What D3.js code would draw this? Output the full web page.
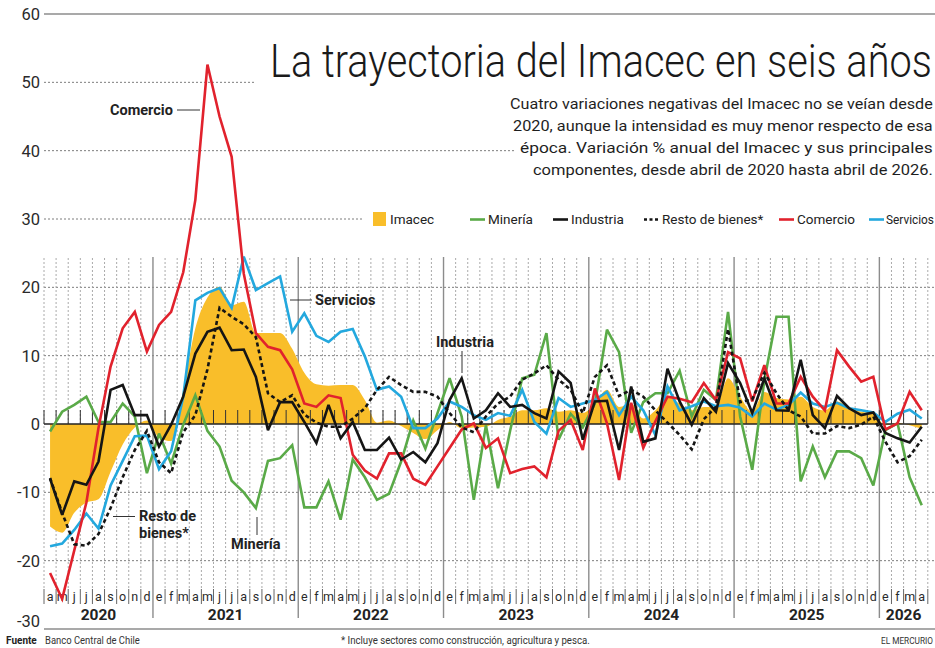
<!DOCTYPE html>
<html><head><meta charset="utf-8">
<script src="https://cdn.jsdelivr.net/npm/d3@7"></script>
<style>
body{margin:0;background:#fff;}
svg{display:block;}
</style></head><body>
<svg id="c" width="935" height="648"></svg>
<script>
// ---------- DATA (variación % anual, abril 2020 - abril 2026) ----------
const monthInitials = ["e","f","m","a","m","j","j","a","s","o","n","d"];
const yearLabels = ["2020","2021","2022","2023","2024","2025","2026"];
const yTicks = [-30,-20,-10,0,10,20,30,40,50,60];

const imacec = [
 -15.0,-15.9,-13.0,-11.5,-11.0,-7.0,-3.0,-0.5,0.5,
 -2.0,-2.5,5.0,14.0,18.5,20.1,17.4,17.9,13.3,13.3,13.3,11.0,
 7.5,5.8,5.6,5.7,5.7,3.5,0.2,0.5,-0.3,-1.3,-2.2,-0.9,
 0.3,-0.6,-0.5,-0.4,0.6,1.1,2.0,2.0,2.3,1.8,2.0,1.6,
 3.0,5.0,2.5,3.0,0.8,2.0,4.0,3.0,2.0,2.5,2.5,6.7,
 4.0,1.8,4.7,3.8,3.6,4.0,2.5,2.0,3.3,2.5,1.8,1.6,
 -0.2,0.2,-0.2,-0.7
];
const mineria = [
 -1.1,1.8,2.8,4.0,0.3,0.3,3.0,1.1,-7.2,
 -1.4,-5.8,-0.1,4.2,-1.0,-3.3,-8.3,-10.0,-12.3,-5.4,-5.0,-3.1,
 -12.2,-12.2,-8.4,-14.0,-5.2,-7.8,-11.1,-10.2,-5.5,0.5,-3.6,1.6,
 6.7,1.1,-11.1,-0.2,-9.4,-1.0,6.7,7.2,13.3,-2.3,1.5,-0.5,
 3.0,13.8,10.5,-1.3,3.2,4.5,4.5,7.8,1.1,5.0,3.5,16.4,
 1.1,-6.7,6.4,15.7,15.7,-8.4,-3.3,-7.8,-4.0,-4.0,-5.0,-9.0,
 -0.9,0.1,-7.8,-11.9
];
const industria = [
 -8.0,-13.3,-8.4,-8.9,-5.5,5.0,5.7,1.3,1.3,
 -3.3,-0.1,4.0,10.3,13.5,14.1,10.8,10.9,6.9,-0.9,3.2,3.2,
 0.3,-2.8,2.8,-2.1,0.3,-3.8,-3.8,-2.0,-5.2,-4.1,-5.6,-2.8,
 3.5,6.7,0.8,2.0,4.5,2.5,2.8,1.6,0.8,7.7,6.0,-2.3,
 3.3,3.4,-3.8,5.5,-2.6,-2.1,8.1,3.3,-0.1,3.8,1.8,8.9,
 6.0,1.6,6.7,2.0,1.95,9.4,1.3,-0.6,4.1,2.3,1.3,1.7,
 -1.3,-2.1,-2.7,-0.4
];
const restoBienes = [
 -7.9,-13.0,-17.6,-17.8,-16.1,-12.3,-7.8,-3.8,-1.0,
 -5.6,-7.2,-1.2,1.3,8.0,17.0,15.7,14.6,12.7,4.5,3.2,4.2,
 1.4,0.2,-0.4,-0.4,0.8,2.3,5.0,6.9,5.7,4.7,4.7,4.0,
 1.6,-0.5,-1.2,1.1,3.0,4.0,6.5,7.4,8.6,6.5,5.0,1.6,
 6.9,8.6,4.1,5.0,4.0,2.0,0.2,-1.6,-3.7,0.7,2.5,13.9,
 3.2,3.6,7.5,4.5,2.0,1.1,-1.4,-1.4,-0.3,-0.6,-0.1,1.1,
 -2.6,-5.6,-4.7,-2.3
];
const comercio = [
 -21.8,-25.6,-18.5,-11.5,-0.6,8.4,14.0,16.4,10.6,
 14.5,16.4,22.2,32.8,52.6,45.0,39.1,22.0,13.3,11.3,10.8,8.0,
 3.0,2.5,4.2,3.8,-4.5,-6.8,-8.0,-4.3,-4.3,-8.0,-8.9,-6.2,
 -3.5,-0.8,0.1,-3.5,-2.1,-7.2,-6.6,-6.2,-7.8,-1.0,0.6,-3.8,
 5.2,0.1,-8.2,3.1,-3.5,0.4,4.0,3.7,3.2,6.0,3.5,10.5,
 9.6,3.3,8.6,3.0,3.0,6.9,4.0,2.0,10.8,8.4,6.2,6.9,
 -0.8,0.1,4.7,2.0
];
const servicios = [
 -17.9,-17.5,-15.5,-13.1,-15.3,-9.0,-5.4,-1.8,-1.7,
 -6.6,-4.0,4.0,18.1,19.2,19.9,17.0,24.5,19.6,20.6,21.6,13.5,
 16.2,12.9,12.0,13.5,13.9,9.9,5.0,5.5,4.0,-0.6,-0.6,0.8,
 3.3,2.5,1.3,0.6,1.6,1.2,5.0,0.3,-1.4,3.8,2.5,3.0,
 3.5,4.7,1.3,4.0,2.0,-1.6,5.5,2.0,2.6,3.3,2.6,2.8,
 2.4,1.1,3.0,2.1,2.8,4.6,3.0,2.5,3.1,2.3,2.0,1.7,
 0.3,1.5,2.1,0.8
];

const titleText = "La trayectoria del Imacec en seis años";
const subtitleLines = [
 "Cuatro variaciones negativas del Imacec no se veían desde",
 "2020, aunque la intensidad es muy menor respecto de esa",
 "época. Variación % anual del Imacec y sus principales",
 "componentes, desde abril de 2020 hasta abril de 2026."
];

// ---------- SETUP ----------
const FONT = "Roboto, 'Open Sans', Arial, sans-serif";
const COL = {imacec:"#F9BE2A", mineria:"#5AAA48", industria:"#151515", resto:"#151515", comercio:"#E1222D", servicios:"#23A8DE"};
const nMonths = imacec.length;
const months = d3.range(nMonths).map(k => {
  const mi = (3 + k) % 12, yi = Math.floor((3 + k) / 12);
  return {k, label: monthInitials[mi], mi, year: yearLabels[yi]};
});

const svg = d3.select("#c").style("font-family", FONT);
const x = d3.scaleBand().domain(d3.range(nMonths)).range([44, 927.8]);
const bw = x.bandwidth();
const cx = i => x(i) + bw / 2;
const y = d3.scaleLinear().domain([-30, 60]).range([629, 14]);
const y0 = y(0);
const bounds = d3.range(nMonths + 1).map(k => k < nMonths ? x(k) : x(nMonths - 1) + bw);

// fit a text to a target width by scaling it horizontally (keeps it a real text)
function fitWidth(sel, x0, target) {
  const len = sel.node().getComputedTextLength();
  const s = Math.min(1.2, target / len);
  sel.attr("x", 0).attr("transform", `translate(${x0},0) scale(${s},1)`);
}

// ---------- GRID ----------
const grid = svg.append("g");
yTicks.forEach(t => {
  if (t === 0) return;
  const solid = (t === 60 || t === -30);
  grid.append("line")
    .attr("x1", 44).attr("x2", 935).attr("y1", y(t)).attr("y2", y(t))
    .attr("stroke", solid ? "#8c8c8c" : "#6e6e6e")
    .attr("stroke-width", solid ? 1.4 : 0.9)
    .attr("stroke-dasharray", solid ? null : "2,2");
});
const yearStartIdx = months.filter(m => m.mi === 0).map(m => m.k);
bounds.forEach((bx, k) => {
  if (yearStartIdx.includes(k)) {
    grid.append("line").attr("x1", bx).attr("x2", bx).attr("y1", 257).attr("y2", 618)
      .attr("stroke", "#8c8c8c").attr("stroke-width", 1.4);
  } else {
    grid.append("line").attr("x1", bx).attr("x2", bx).attr("y1", 258).attr("y2", 588)
      .attr("stroke", "#a0a0a0").attr("stroke-width", 0.9).attr("stroke-dasharray", "2,2");
    grid.append("line").attr("x1", bx).attr("x2", bx).attr("y1", 589).attr("y2", 604)
      .attr("stroke", "#555").attr("stroke-width", 0.9);
  }
});

// Y tick labels (the bottom one sits above the base line)
svg.append("g").selectAll("text").data(yTicks).join("text")
  .attr("x", 40).attr("y", d => d === -30 ? y(d) - 2 : y(d)).attr("dy", d => d === -30 ? 0 : "0.36em")
  .attr("text-anchor", "end").attr("font-size", 16.5).attr("fill", "#2a2a2a")
  .text(d => d);

// Month labels
svg.append("g").selectAll("text").data(months).join("text")
  .attr("x", d => cx(d.k)).attr("y", 601).attr("text-anchor", "middle")
  .attr("font-size", 12.5).attr("fill", "#2a2a2a").text(d => d.label);

// Year labels
yearLabels.forEach(yr => {
  const ms = months.filter(m => m.year === yr);
  const a = x(ms[0].k), b = x(ms[ms.length - 1].k) + bw;
  svg.append("text").attr("x", (a + b) / 2).attr("y", 620).attr("text-anchor", "middle")
    .attr("font-size", 15.5).attr("font-weight", 700).attr("fill", "#222").text(yr);
});

// ---------- AREA (Imacec) ----------
const area = d3.area().x((d, i) => cx(i)).y0(y0).y1(d => y(d)).curve(d3.curveMonotoneX);
svg.append("path").datum(imacec).attr("d", area).attr("fill", COL.imacec);

// zero line + ticks
svg.append("line").attr("x1", 44).attr("x2", bounds[nMonths]).attr("y1", y0).attr("y2", y0)
  .attr("stroke", "#222").attr("stroke-width", 1.6);
svg.append("g").selectAll("line").data(bounds).join("line")
  .attr("x1", d => d).attr("x2", d => d).attr("y1", y0 - 14).attr("y2", y0)
  .attr("stroke", "#333").attr("stroke-width", 1);

// ---------- LINES ----------
const line = d3.line().x((d, i) => cx(i)).y(d => y(d));
const series = [
  {data: mineria, color: COL.mineria},
  {data: servicios, color: COL.servicios},
  {data: comercio, color: COL.comercio},
  {data: restoBienes, color: COL.resto, dash: "4,3"},
  {data: industria, color: COL.industria}
];
series.forEach(s => {
  svg.append("path").datum(s.data).attr("d", line).attr("fill", "none")
    .attr("stroke", s.color).attr("stroke-width", 2.6)
    .attr("stroke-linejoin", "miter").attr("stroke-miterlimit", 3)
    .attr("stroke-dasharray", s.dash || null);
});

// ---------- ANNOTATIONS ----------
const ann = svg.append("g").attr("font-size", 14.5).attr("font-weight", 700).attr("fill", "#222");
function lead(x1, y1, x2, y2) {
  svg.append("line").attr("x1", x1).attr("y1", y1).attr("x2", x2).attr("y2", y2)
    .attr("stroke", "#333").attr("stroke-width", 1);
}
ann.append("text").attr("x", 110).attr("y", 115).text("Comercio");
lead(177, 110, 200, 110);
ann.append("text").attr("x", 315).attr("y", 305).text("Servicios");
lead(290, 300, 312, 300);
ann.append("text").attr("x", 436).attr("y", 347).text("Industria");
lead(462, 351, 462, 373);
ann.append("text").attr("x", 139).attr("y", 521).text("Resto de");
ann.append("text").attr("x", 139).attr("y", 538).text("bienes*");
lead(113, 516.5, 135, 516.5);
ann.append("text").attr("x", 231).attr("y", 549).text("Minería");
lead(257, 517, 257, 535);

// ---------- TITLE / SUBTITLE ----------
svg.append("rect").attr("x", 256).attr("y", 30).attr("width", 679).attr("height", 60).attr("fill", "#fff");
const title = svg.append("text").attr("y", 77).attr("font-size", 46).attr("font-weight", 300)
  .attr("fill", "#1a1a1a").text(titleText);
fitWidth(title, 270, 662);

const subStart = [510, 513, 520, 533];
const subBase = [109, 131, 153, 175];
subtitleLines.forEach((t, i) => {
  const w = 933 - subStart[i];
  svg.append("rect").attr("x", subStart[i] - 6).attr("y", subBase[i] - 14).attr("width", w + 8).attr("height", 19).attr("fill", "#fff");
  const st = svg.append("text").attr("y", subBase[i]).attr("font-size", 15.5).attr("font-weight", 400)
    .attr("fill", "#1e1e1e").text(t);
  fitWidth(st, subStart[i], w);
});

// ---------- LEGEND ----------
const leg = svg.append("g");
leg.append("rect").attr("x", 364).attr("y", 207).attr("width", 571).attr("height", 24).attr("fill", "#fff");
leg.append("rect").attr("x", 373).attr("y", 212).attr("width", 13).attr("height", 14).attr("fill", COL.imacec);
const legItems = [
  {label: "Imacec", tx: 390},
  {label: "Minería", color: COL.mineria, lx: 470, tx: 488},
  {label: "Industria", color: COL.industria, lx: 553, tx: 571},
  {label: "Resto de bienes*", color: COL.resto, lx: 644, tx: 662, dash: "3,2.5"},
  {label: "Comercio", color: COL.comercio, lx: 779, tx: 797},
  {label: "Servicios", color: COL.servicios, lx: 869, tx: 886, fit: 48}
];
legItems.forEach(it => {
  if (it.lx !== undefined) {
    leg.append("line").attr("x1", it.lx).attr("x2", it.lx + 15).attr("y1", 219.5).attr("y2", 219.5)
      .attr("stroke", it.color).attr("stroke-width", 2.6).attr("stroke-dasharray", it.dash || null);
  }
  const t = leg.append("text").attr("x", it.tx).attr("y", 224).attr("font-size", 13.5).attr("fill", "#222").text(it.label);
  if (it.fit) fitWidth(t, it.tx, it.fit);
});

// ---------- FOOTER ----------
svg.append("text").attr("x", 6).attr("y", 644).attr("font-size", 10).attr("font-weight", 700).attr("fill", "#222").text("Fuente");
fitWidth(svg.append("text").attr("y", 644).attr("font-size", 10).attr("fill", "#333").text("Banco Central de Chile"), 45, 95);
fitWidth(svg.append("text").attr("y", 644).attr("font-size", 10).attr("fill", "#333")
  .text("* Incluye sectores como construcción, agricultura y pesca."), 341, 249);
fitWidth(svg.append("text").attr("y", 644).attr("font-size", 9.5).attr("fill", "#333").text("EL MERCURIO"), 881, 52);
</script>
</body></html>
